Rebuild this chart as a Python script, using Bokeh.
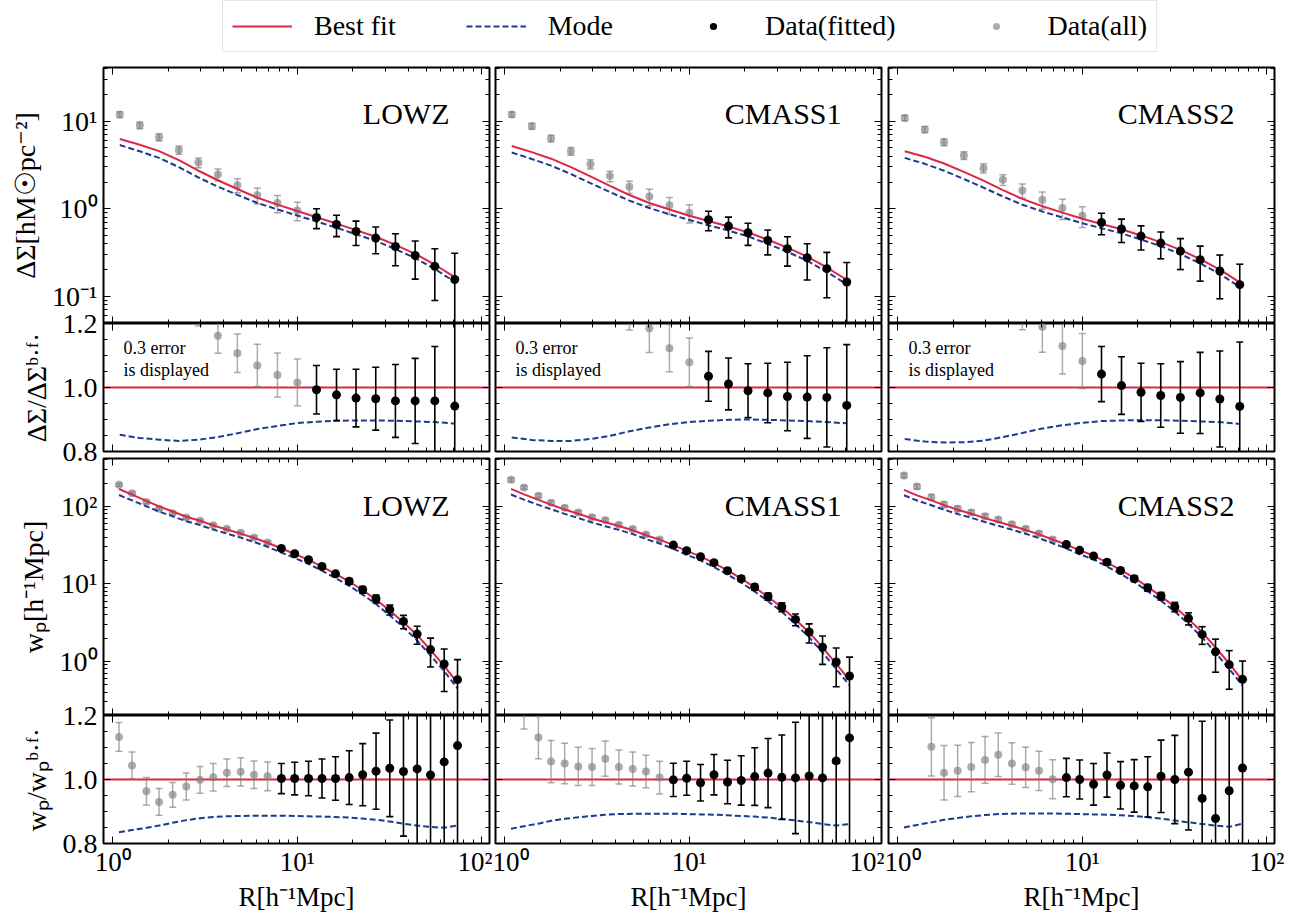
import numpy as np
from bokeh.plotting import figure
from bokeh.layouts import column, row
from bokeh.models import (Range1d, FixedTicker, LogAxis, LinearAxis, CustomJSTickFormatter,
                          PrintfTickFormatter, Span, Label, Legend, LegendItem)
from bokeh.embed import file_html
from bokeh.resources import INLINE

# ------------------------------------------------------------------ data
samples = ["LOWZ", "CMASS1", "CMASS2"]

R_ds = [1.09, 1.40, 1.78, 2.28, 2.91, 3.71, 4.73, 6.07, 7.80, 10.0,
        12.7, 16.3, 20.8, 26.6, 34.0, 43.5, 55.6, 71.3]
R_wp = [1.08, 1.27, 1.52, 1.78, 2.11, 2.50, 2.97, 3.50, 4.15, 4.93, 5.82, 6.90,
        8.19, 9.67, 11.5, 13.6, 16.1, 19.1, 22.6, 26.7, 31.7, 37.6, 44.6, 52.7, 62.5, 73.8]
ds_first_fitted = 10
wp_first_fitted = 12
ds_error_shown = 0.3   # "0.3 error is displayed"

# Delta Sigma: data, data / best fit, error / best fit, mode / best fit
ds_lowz = [11.9, 8.98, 6.55, 4.70, 3.37, 2.46, 1.86, 1.43, 1.16, 0.957,
           0.796, 0.662, 0.551, 0.463, 0.371, 0.293, 0.220, 0.156]
ds_ratio_lowz = [1.90, 1.67, 1.44, 1.31, 1.24, 1.162, 1.107, 1.069, 1.039, 1.016,
                 0.993, 0.977, 0.967, 0.965, 0.958, 0.958, 0.958, 0.942]
ds_frac_lowz = [0.143, 0.143, 0.137, 0.143, 0.160, 0.183, 0.200, 0.220, 0.230, 0.243,
                0.253, 0.267, 0.300, 0.327, 0.380, 0.443, 0.567, 0.933]
ds_mode_lowz = [0.852, 0.842, 0.837, 0.833, 0.837, 0.845, 0.857, 0.870, 0.880, 0.889,
                0.893, 0.896, 0.897, 0.897, 0.896, 0.894, 0.892, 0.887]

ds_cmass1 = [11.9, 8.77, 6.34, 4.55, 3.23, 2.36, 1.78, 1.38, 1.10, 0.900,
             0.749, 0.634, 0.532, 0.435, 0.350, 0.276, 0.207, 0.146]
ds_ratio_cmass1 = [2.29, 1.98, 1.70, 1.52, 1.38, 1.29, 1.24, 1.185, 1.123, 1.079,
                   1.035, 1.011, 0.990, 0.983, 0.972, 0.970, 0.969, 0.944]
ds_frac_cmass1 = [0.160, 0.160, 0.153, 0.153, 0.167, 0.180, 0.200, 0.253, 0.247, 0.253,
                  0.260, 0.270, 0.280, 0.310, 0.357, 0.430, 0.517, 0.633]
ds_mode_cmass1 = [0.844, 0.836, 0.833, 0.833, 0.839, 0.849, 0.863, 0.875, 0.885, 0.892,
                  0.896, 0.899, 0.900, 0.899, 0.897, 0.895, 0.892, 0.888]

ds_cmass2 = [10.9, 8.04, 5.75, 4.06, 2.91, 2.14, 1.62, 1.27, 1.02, 0.832,
             0.698, 0.587, 0.488, 0.406, 0.329, 0.262, 0.195, 0.136]
ds_ratio_cmass2 = [2.40, 2.05, 1.75, 1.54, 1.39, 1.31, 1.25, 1.19, 1.130, 1.083,
                   1.042, 1.006, 0.985, 0.975, 0.969, 0.983, 0.964, 0.941]
ds_frac_cmass2 = [0.167, 0.163, 0.157, 0.153, 0.167, 0.183, 0.233, 0.267, 0.293, 0.287,
                  0.287, 0.300, 0.303, 0.330, 0.373, 0.423, 0.500, 0.670]
ds_mode_cmass2 = [0.839, 0.831, 0.828, 0.829, 0.834, 0.845, 0.858, 0.872, 0.882, 0.890,
                  0.895, 0.897, 0.898, 0.898, 0.896, 0.894, 0.892, 0.886]

# w_p: data, data / best fit, error / best fit, mode / best fit
wp_lowz = [190.5, 148.5, 113.8, 93.3, 82.0, 72.1, 65.3, 57.4, 51.5, 45.7, 39.8, 34.3,
           28.7, 24.5, 20.5, 16.8, 13.5, 10.8, 8.41, 6.44, 4.65, 3.28, 2.25, 1.42, 0.925, 0.580]
wp_ratio_lowz = [1.133, 1.044, 0.963, 0.930, 0.952, 0.978, 0.999, 1.007, 1.021, 1.024, 1.015, 1.010,
                 1.003, 1.003, 1.003, 1.003, 1.003, 1.006, 1.015, 1.026, 1.035, 1.025, 1.033, 1.014, 1.055, 1.106]
wp_frac_lowz = [0.045, 0.042, 0.043, 0.042, 0.039, 0.042, 0.042, 0.043, 0.043, 0.044, 0.043, 0.045,
                0.047, 0.051, 0.054, 0.061, 0.068, 0.084, 0.097, 0.119, 0.151, 0.202, 0.27, 0.41, 0.59, 0.90]
wp_mode_lowz = [0.835, 0.842, 0.849, 0.856, 0.865, 0.873, 0.879, 0.883, 0.885, 0.886, 0.887, 0.887,
                0.887, 0.886, 0.885, 0.884, 0.883, 0.881, 0.878, 0.874, 0.869, 0.862, 0.856, 0.852, 0.849, 0.856]

wp_cmass1 = [220.6, 175.9, 137.3, 111.5, 96.1, 83.7, 72.8, 66.6, 58.0, 51.0, 43.5, 37.5,
             31.7, 26.8, 22.4, 18.8, 14.8, 11.7, 9.10, 6.90, 5.03, 3.48, 2.39, 1.52, 0.980, 0.647]
wp_ratio_cmass1 = [1.31, 1.226, 1.131, 1.056, 1.050, 1.041, 1.039, 1.065, 1.039, 1.033, 1.025, 1.006,
                   0.999, 1.004, 0.990, 1.015, 0.992, 0.997, 1.009, 1.020, 1.007, 1.005, 1.011, 1.005, 1.058, 1.130]
wp_frac_cmass1 = [0.070, 0.068, 0.066, 0.066, 0.063, 0.060, 0.058, 0.055, 0.053, 0.053, 0.051, 0.051,
                  0.052, 0.053, 0.057, 0.063, 0.068, 0.077, 0.090, 0.108, 0.132, 0.174, 0.28, 0.40, 0.55, 0.85]
wp_mode_cmass1 = [0.846, 0.854, 0.862, 0.871, 0.877, 0.882, 0.886, 0.890, 0.892, 0.893, 0.893, 0.893,
                  0.893, 0.892, 0.891, 0.890, 0.888, 0.886, 0.884, 0.881, 0.877, 0.872, 0.867, 0.861, 0.856, 0.861]

wp_cmass2 = [251.0, 181.0, 131.9, 106.1, 93.3, 83.7, 75.0, 67.9, 59.1, 51.5, 44.8, 37.5,
             32.3, 27.1, 22.9, 19.1, 14.9, 11.7, 8.93, 6.97, 5.07, 3.59, 2.23, 1.33, 0.906, 0.586]
wp_ratio_cmass2 = [1.53, 1.30, 1.102, 1.021, 1.027, 1.039, 1.061, 1.077, 1.050, 1.038, 1.027, 1.001,
                   1.006, 1.000, 0.985, 1.014, 0.982, 0.980, 0.977, 1.010, 1.000, 1.023, 0.941, 0.878, 0.965, 1.036]
wp_frac_cmass2 = [0.10, 0.090, 0.091, 0.085, 0.080, 0.077, 0.073, 0.068, 0.065, 0.063, 0.061, 0.061,
                  0.060, 0.061, 0.065, 0.069, 0.074, 0.082, 0.094, 0.113, 0.138, 0.181, 0.241, 0.40, 0.50, 0.75]
wp_mode_cmass2 = [0.850, 0.858, 0.866, 0.874, 0.880, 0.885, 0.889, 0.892, 0.893, 0.894, 0.894, 0.894,
                  0.893, 0.892, 0.891, 0.890, 0.888, 0.886, 0.882, 0.878, 0.872, 0.866, 0.861, 0.856, 0.852, 0.862]

# axes
x_ticks = [1, 10, 100]
x_minor = [2, 3, 4, 5, 6, 7, 8, 9, 20, 30, 40, 50, 60, 70, 80, 90]
ds_ticks = [0.1, 1, 10]
ds_minor = [0.05, 0.06, 0.07, 0.08, 0.09, 0.2, 0.3, 0.4, 0.5, 0.6, 0.7, 0.8, 0.9,
            2, 3, 4, 5, 6, 7, 8, 9, 20, 30, 40]
wp_ticks = [1, 10, 100]
wp_minor = [0.3, 0.4, 0.5, 0.6, 0.7, 0.8, 0.9, 2, 3, 4, 5, 6, 7, 8, 9,
            20, 30, 40, 50, 60, 70, 80, 90, 200, 300, 400]
ratio_ticks = [0.8, 1.0, 1.2]
ratio_minor = [0.85, 0.9, 0.95, 1.05, 1.1, 1.15]

DS_DATA = {"LOWZ": (ds_lowz, ds_ratio_lowz, ds_frac_lowz, ds_mode_lowz),
           "CMASS1": (ds_cmass1, ds_ratio_cmass1, ds_frac_cmass1, ds_mode_cmass1),
           "CMASS2": (ds_cmass2, ds_ratio_cmass2, ds_frac_cmass2, ds_mode_cmass2)}
WP_DATA = {"LOWZ": (wp_lowz, wp_ratio_lowz, wp_frac_lowz, wp_mode_lowz),
           "CMASS1": (wp_cmass1, wp_ratio_cmass1, wp_frac_cmass1, wp_mode_cmass1),
           "CMASS2": (wp_cmass2, wp_ratio_cmass2, wp_frac_cmass2, wp_mode_cmass2)}

# ------------------------------------------------------------------ style
FONT = "Liberation Serif"
RED = "#dc2846"
BLUE = "#1e3a8f"
GRAY = "#808080"
GALPHA = 0.65
XR = (0.89, 110)
DS_YR = (0.049, 41)
WP_YR = (0.20, 416)
RAT_YR = (0.8, 1.2)

SUP = CustomJSTickFormatter(code="""
const m = {"-":"\u207b","0":"\u2070","1":"\u00b9","2":"\u00b2","3":"\u00b3","4":"\u2074",
           "5":"\u2075","6":"\u2076","7":"\u2077","8":"\u2078","9":"\u2079"};
const e = Math.round(Math.log10(tick));
return "10" + String(e).split("").map(c => m[c]).join("");
""")
DEC = PrintfTickFormatter(format="%.1f")
BLANK = CustomJSTickFormatter(code="return '';")


def style_axis(ax, ticks, minor):
    ax.ticker = FixedTicker(ticks=ticks, minor_ticks=minor)
    ax.major_tick_in = 7
    ax.major_tick_out = 0
    ax.minor_tick_in = 4
    ax.minor_tick_out = 0
    ax.major_tick_line_color = "black"
    ax.minor_tick_line_color = "black"
    ax.major_tick_line_width = 1
    ax.minor_tick_line_width = 1
    ax.axis_line_color = None
    ax.formatter = BLANK
    ax.major_label_text_font_size = "1px"
    ax.major_label_standoff = 0


def show_labels(ax, fmt, label, size, standoff, label_standoff):
    ax.formatter = fmt
    ax.major_label_text_font = FONT
    ax.major_label_text_font_size = size
    ax.major_label_text_color = "black"
    ax.major_label_standoff = standoff
    if label:
        ax.axis_label = label
        ax.axis_label_text_font = FONT
        ax.axis_label_text_font_size = size
        ax.axis_label_text_font_style = "normal"
        ax.axis_label_text_color = "black"
        ax.axis_label_standoff = label_standoff


def panel(col, frame_h, top, bottom, margin_top, ylog, yr, yticks, yminor, yfmt, ylabel, xlabel):
    lb = (103, 3, 4)[col]
    rb = (3, 3, 30)[col]
    p = figure(frame_width=386, frame_height=frame_h, x_axis_type="log",
               y_axis_type="log" if ylog else "linear",
               x_range=Range1d(*XR), y_range=Range1d(*yr),
               min_border_left=lb, min_border_right=rb,
               min_border_top=top, min_border_bottom=bottom,
               output_backend="svg", toolbar_location=None)
    p.add_layout(LogAxis(), "above")
    p.add_layout(LogAxis() if ylog else LinearAxis(), "right")
    p.grid.visible = False
    p.outline_line_color = "black"
    p.outline_line_width = 2
    p.background_fill_color = "white"
    if margin_top:
        p.border_fill_color = None
        p.margin = (margin_top, 0, 0, 0)
    for ax in p.xaxis:
        style_axis(ax, x_ticks, x_minor)
    for ax in p.yaxis:
        style_axis(ax, yticks, yminor)
    if xlabel:
        show_labels(p.below[0], SUP, "R[h\u207b\u00b9Mpc]", "27px", 3, 2)
    if col == 0:
        show_labels(p.left[0], yfmt, ylabel, "28px", 6, 8)
    return p


def errorbars(p, x, lo, hi, color, alpha, lw):
    p.segment(x0=x, y0=lo, x1=x, y1=hi, line_color=color, line_alpha=alpha, line_width=lw)
    p.scatter(x=x, y=lo, marker="dash", size=7, line_color=color, line_alpha=alpha, line_width=lw)
    p.scatter(x=x, y=hi, marker="dash", size=7, line_color=color, line_alpha=alpha, line_width=lw)


def draw_main(p, R, vals, nfit):
    y, ratio, frac, mode = (np.array(v, dtype=float) for v in vals)
    R = np.array(R, dtype=float)
    bf = y / ratio
    err = frac * bf
    g = slice(0, nfit)
    b = slice(nfit, None)
    errorbars(p, R[g], y[g] - err[g], y[g] + err[g], GRAY, GALPHA, 1.5)
    p.scatter(x=R[g], y=y[g], size=8, fill_color=GRAY, fill_alpha=GALPHA, line_color=None)
    p.line(x=R, y=bf, line_color=RED, line_width=2)
    p.line(x=R, y=mode * bf, line_color=BLUE, line_width=2, line_dash="6 3")
    errorbars(p, R[b], y[b] - err[b], y[b] + err[b], "black", 1.0, 1.6)
    p.scatter(x=R[b], y=y[b], size=9, fill_color="black", line_color=None)


def draw_ratio(p, R, vals, nfit, shown):
    _, ratio, frac, mode = (np.array(v, dtype=float) for v in vals)
    R = np.array(R, dtype=float)
    e = shown * frac
    p.add_layout(Span(location=1.0, dimension="width", line_color=RED, line_width=2, level="underlay"))
    p.line(x=R, y=mode, line_color=BLUE, line_width=2, line_dash="6 3")
    g = slice(0, nfit)
    b = slice(nfit, None)
    errorbars(p, R[g], ratio[g] - e[g], ratio[g] + e[g], GRAY, GALPHA, 1.5)
    p.scatter(x=R[g], y=ratio[g], size=8, fill_color=GRAY, fill_alpha=GALPHA, line_color=None)
    errorbars(p, R[b], ratio[b] - e[b], ratio[b] + e[b], "black", 1.0, 1.6)
    p.scatter(x=R[b], y=ratio[b], size=9, fill_color="black", line_color=None)


def name_label(p, text):
    p.add_layout(Label(x=346, y=210, x_units="screen", y_units="screen", text=text,
                       text_align="right", text_baseline="alphabetic",
                       text_font=FONT, text_font_size="30px", text_color="black"))


rows = [[], [], [], []]
for c, s in enumerate(samples):
    p0 = panel(c, 256, 5, 0, 0, True, DS_YR, ds_ticks, ds_minor, SUP,
               "\u0394\u03a3[hM\u2609pc\u207b\u00b2]", False)
    draw_main(p0, R_ds, DS_DATA[s], ds_first_fitted)
    name_label(p0, s)

    p1 = panel(c, 128, 18, 18, -18, False, RAT_YR, ratio_ticks, ratio_minor, DEC,
               "\u0394\u03a3/\u0394\u03a3\u1d47\u00b7\u1da0\u00b7", False)
    draw_ratio(p1, R_ds, DS_DATA[s], ds_first_fitted, ds_error_shown)
    p1.add_layout(Label(x=20, y=114, x_units="screen", y_units="screen",
                        text="0.3 error", text_align="left", text_baseline="top",
                        text_font=FONT, text_font_size="18px", text_color="black"))
    p1.add_layout(Label(x=20, y=92, x_units="screen", y_units="screen",
                        text="is displayed", text_align="left", text_baseline="top",
                        text_font=FONT, text_font_size="18px", text_color="black"))

    p2 = panel(c, 257, 15, 0, -26, True, WP_YR, wp_ticks, wp_minor, SUP,
               "w\u209a[h\u207b\u00b9Mpc]", False)
    draw_main(p2, R_wp, WP_DATA[s], wp_first_fitted)
    name_label(p2, s)

    p3 = panel(c, 128, 18, 69, -18, False, RAT_YR, ratio_ticks, ratio_minor, DEC,
               "w\u209a/w\u209a\u1d47\u00b7\u1da0\u00b7", True)
    draw_ratio(p3, R_wp, WP_DATA[s], wp_first_fitted, 1.0)

    for i, p in enumerate((p0, p1, p2, p3)):
        rows[i].append(p)

# ------------------------------------------------------------------ legend
lf = figure(width=1304, height=62, x_range=Range1d(0, 1), y_range=Range1d(0, 1),
            x_axis_location=None, y_axis_location=None, min_border=0,
            output_backend="svg", toolbar_location=None)
lf.grid.visible = False
lf.outline_line_color = None
NA = [np.nan]
r_bf = lf.line(x=NA, y=NA, line_color=RED, line_width=2)
r_mode = lf.line(x=NA, y=NA, line_color=BLUE, line_width=2, line_dash="6 3")
r_fit_dot = lf.scatter(x=NA, y=NA, marker="circle", fill_color="black", line_color=None)
r_all_dot = lf.scatter(x=NA, y=NA, marker="circle", fill_color=GRAY, fill_alpha=GALPHA, line_color=None)
legend = Legend(items=[LegendItem(label="Best fit", renderers=[r_bf]),
                       LegendItem(label="Mode", renderers=[r_mode]),
                       LegendItem(label="Data(fitted)", renderers=[r_fit_dot]),
                       LegendItem(label="Data(all)", renderers=[r_all_dot])],
                orientation="horizontal", location=(222, 10),
                label_text_font=FONT, label_text_font_size="28px", label_text_color="black",
                glyph_width=60, glyph_height=18, label_standoff=22, spacing=70, padding=9,
                border_line_color="#cccccc", border_line_width=1.5,
                background_fill_color="white", background_fill_alpha=1.0, margin=0)
lf.add_layout(legend)

layout = column(lf, *[row(*r) for r in rows])
open("out.html", "w").write(file_html(layout, INLINE))
